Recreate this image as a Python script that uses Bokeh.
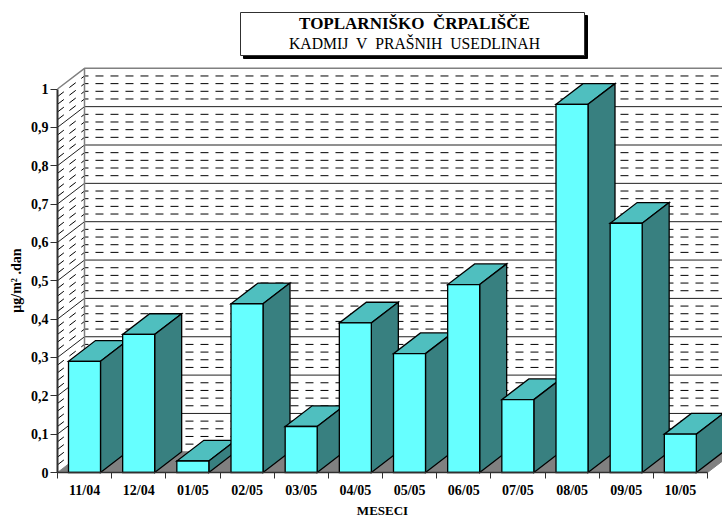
import math
from bokeh.plotting import figure
from bokeh.models import Range1d, FixedTicker, Label
from bokeh.embed import file_html
from bokeh.resources import INLINE

months = ["11/04", "12/04", "01/05", "02/05", "03/05", "04/05", "05/05", "06/05", "07/05", "08/05", "09/05", "10/05"]
values = [0.29, 0.36, 0.03, 0.44, 0.12, 0.39, 0.31, 0.49, 0.19, 0.96, 0.65, 0.10]
major_levels = [0.1, 0.2, 0.3, 0.4, 0.5, 0.6, 0.7, 0.8, 0.9]
minor_levels = [round(i * 0.02, 2) for i in range(1, 50) if i % 5]
y_labels = {0: "0", 0.1: "0,1", 0.2: "0,2", 0.3: "0,3", 0.4: "0,4", 0.5: "0,5",
            0.6: "0,6", 0.7: "0,7", 0.8: "0,8", 0.9: "0,9", 1: "1"}
title_main = "TOPLARNIŠKO\u00a0\u00a0ČRPALIŠČE"
title_sub = "KADMIJ\u00a0\u00a0V\u00a0\u00a0PRAŠNIH\u00a0\u00a0USEDLINAH"
y_title = "μg/m² .dan"
x_title = "MESECI"

SERIF = "Liberation Serif"
W, H = 722, 517
UX, UY = 650 / 12, 383.5
DX, DY = 27 / UX, 20.7 / UY
n = len(months)
BAR_L, BAR_W = 11 / UX, 32 / UX


def px(x):
    return (x - 57) / UX


def py(y):
    return (472 - y) / UY


p = figure(width=W, height=H, output_backend="svg", toolbar_location=None,
           x_range=Range1d(px(0), px(W)), y_range=Range1d(py(H), py(0)),
           min_border=0, outline_line_color=None,
           background_fill_color="white", border_fill_color="white")
p.xgrid.visible = False
p.ygrid.visible = False

# floor
p.patch([0, n, n + DX, DX], [0, 0, DY, DY], fill_color="#808080", line_color="#808080", line_width=1)


def wall_path(v):
    return [0, DX, n + DX], [v, v + DY, v + DY]


# minor dashed lines
xs, ys = zip(*[wall_path(v) for v in minor_levels])
p.multi_line(list(xs), list(ys), line_color="black", line_width=1, line_dash="8 7")
# major solid lines
xs, ys = zip(*[wall_path(v) for v in major_levels])
p.multi_line(list(xs), list(ys), line_color="#202020", line_width=1)
# wall frame
p.line(*wall_path(1), line_color="#808080", line_width=1.5)
p.line([DX, DX], [DY, 1 + DY], line_color="#808080", line_width=1.5)

# bars, left to right so that later fronts overlap earlier sides
px_list, py_list, colors = [], [], []
for i, v in enumerate(values):
    l, r = i + BAR_L, i + BAR_L + BAR_W
    px_list += [[l, r, r + DX, l + DX], [r, r + DX, r + DX, r], [l, r, r, l]]
    py_list += [[v, v, v + DY, v + DY], [0, DY, v + DY, v], [0, 0, v, v]]
    colors += ["#4FBFBF", "#388080", "#66FFFF"]
p.patches(px_list, py_list, fill_color=colors, line_color="black", line_width=1.3, line_join="miter")

# axes
ax = p.yaxis[0]
ax.fixed_location = 0
ax.ticker = FixedTicker(ticks=[0] + major_levels + [1])
ax.major_label_overrides = y_labels
ax.bounds = (0, 1)
ax.axis_line_color = "#303030"
ax.axis_line_width = 2
ax.major_tick_line_color = "#303030"
ax.major_tick_line_width = 1
ax.major_tick_in = 0
ax.major_tick_out = 7
ax.minor_tick_line_color = None
ax.major_label_standoff = 2
ax.major_label_text_font = SERIF
ax.major_label_text_font_style = "bold"
ax.major_label_text_font_size = "14px"
ax.major_label_text_color = "black"

bx = p.xaxis[0]
bx.fixed_location = 0
centers = [i + 0.5 for i in range(n)]
bx.ticker = FixedTicker(ticks=centers, minor_ticks=list(range(n + 1)))
bx.major_label_overrides = dict(zip(centers, months))
bx.bounds = (0, n)
bx.axis_line_color = "#303030"
bx.axis_line_width = 1.5
bx.major_tick_line_color = None
bx.minor_tick_line_color = "#303030"
bx.minor_tick_in = 0
bx.minor_tick_out = 6
bx.major_label_standoff = 4
bx.major_label_text_font = SERIF
bx.major_label_text_font_style = "bold"
bx.major_label_text_font_size = "14px"
bx.major_label_text_color = "black"

# axis titles
p.add_layout(Label(x=px(382), y=py(510), text=x_title, text_align="center", text_baseline="middle",
                   text_font=SERIF, text_font_style="bold", text_font_size="13px", text_color="black"))
p.add_layout(Label(x=px(16), y=py(280), text=y_title, angle=math.pi / 2, text_align="center", text_baseline="middle",
                   text_font=SERIF, text_font_style="bold", text_font_size="14px", text_color="black"))

# title box with shadow
p.quad(left=px(243), right=px(587), top=py(15), bottom=py(58), fill_color="black", line_color="black")
p.quad(left=px(240), right=px(584), top=py(12), bottom=py(55), fill_color="white", line_color="#303030", line_width=1)
for txt, y, style, size in [(title_main, 23, "bold", "17px"), (title_sub, 43, "normal", "15.7px")]:
    p.add_layout(Label(x=px(414), y=py(y), text=txt, text_align="center", text_baseline="middle",
                       text_font=SERIF, text_font_style=style, text_font_size=size, text_color="black"))

open("out.html", "w").write(file_html(p, INLINE))
